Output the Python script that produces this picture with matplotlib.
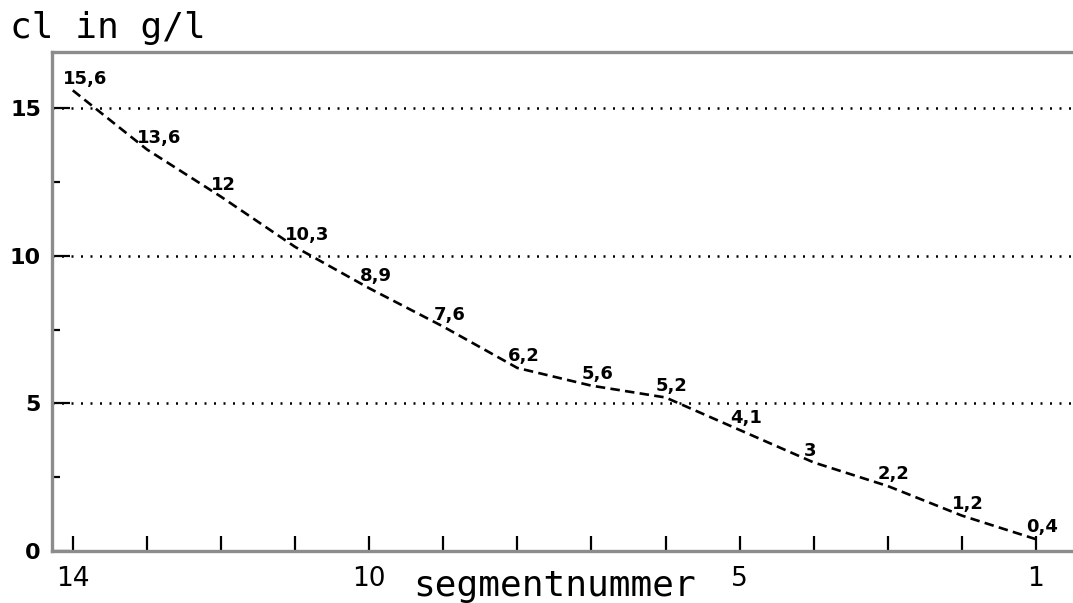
import matplotlib
matplotlib.use("Agg")
import matplotlib.pyplot as plt
from matplotlib.ticker import MultipleLocator

# segment numbers, counted from 14 down to 1
segments = [14, 13, 12, 11, 10, 9, 8, 7, 6, 5, 4, 3, 2, 1]
cl_values = [15.6, 13.6, 12, 10.3, 8.9, 7.6, 6.2, 5.6, 5.2, 4.1, 3, 2.2, 1.2, 0.4]
value_labels = ["15,6", "13,6", "12", "10,3", "8,9", "7,6", "6,2",
                "5,6", "5,2", "4,1", "3", "2,2", "1,2", "0,4"]
x_labelled = [14, 10, 5, 1]
y_major = [0, 5, 10, 15]

fig = plt.figure(figsize=(10.73, 6.03), dpi=100)
ax = fig.add_axes([0.0485, 0.0862, 0.9515, 0.8276])

# dotted guide lines
for yv in y_major[1:]:
    ax.axhline(yv, color="black", linewidth=1.8,
               linestyle=(0, (0.8, 3.0)), zorder=1)

ax.plot(segments, cl_values, color="black", linewidth=1.9,
        dashes=(3.6, 2.0), zorder=3)

for xs, yv, txt in zip(segments, cl_values, value_labels):
    ax.annotate(txt, (xs, yv), xytext=(-7, 2), textcoords="offset points",
                ha="left", va="bottom", fontsize=13, fontweight="bold",
                color="black", zorder=4)

ax.set_xlim(14.28, 0.5)
ax.set_ylim(0, 16.9)

ax.set_xticks(segments)
ax.set_xticklabels([str(s) if s in x_labelled else "" for s in segments])
ax.set_yticks(y_major)
ax.yaxis.set_minor_locator(MultipleLocator(2.5))

ax.tick_params(axis="x", direction="in", length=11, width=1.6,
               pad=11, labelsize=19, colors="black")
ax.tick_params(axis="y", which="major", direction="in", length=13,
               width=1.6, pad=8, labelsize=16)
ax.tick_params(axis="y", which="minor", direction="in", length=6,
               width=1.6)
for lab in ax.get_yticklabels():
    lab.set_fontweight("bold")

for side in ("left", "top", "bottom"):
    ax.spines[side].set_color("#8c8c8c")
    ax.spines[side].set_linewidth(2.4)
ax.spines["right"].set_visible(False)

fig.text(0.009, 0.937, "cl in g/l", family="DejaVu Sans Mono",
         fontsize=26, ha="left", va="baseline")
fig.text(0.517, 0.012, "segmentnummer", family="DejaVu Sans Mono",
         fontsize=26, ha="center", va="baseline")

fig.savefig("out.png", dpi=100)
